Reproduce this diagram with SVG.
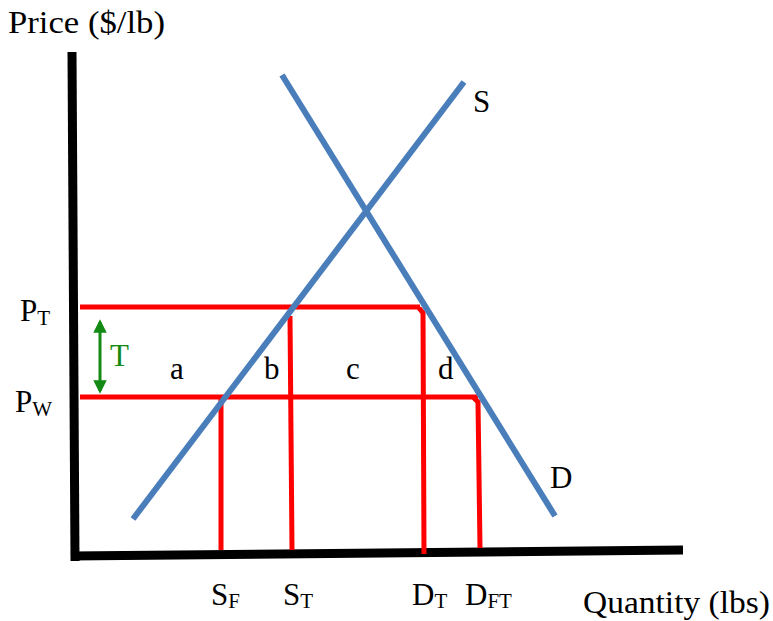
<svg xmlns="http://www.w3.org/2000/svg" width="773" height="621" viewBox="0 0 773 621">
<defs>
<style>
text{font-family:"Liberation Serif","DejaVu Serif",serif;fill:#000;}
.lbl{font-size:31px;}
.sub{font-size:21px;}
.axis{stroke:#000;stroke-width:9;fill:none;}
.curve{stroke:#4a7ebb;stroke-width:6;fill:none;}
.red{stroke:#ff0000;stroke-width:5;fill:none;}
.green{stroke:#138a13;stroke-width:3;fill:none;}
</style>
<marker id="ga" viewBox="0 0 10 10" refX="8" refY="5" markerWidth="4.5" markerHeight="4.5" orient="auto-start-reverse">
<path d="M0,0 L10,5 L0,10 z" fill="#138a13"/>
</marker>
</defs>
<rect width="773" height="621" fill="#fff"/>
<g id="axes">
<line class="axis" x1="72" y1="52" x2="75" y2="561"/>
<line class="axis" x1="71" y1="556" x2="683" y2="550"/>
<text class="lbl" x="8" y="33" textLength="157" lengthAdjust="spacingAndGlyphs">Price ($/lb)</text>
<text class="lbl" x="583" y="613" textLength="187" lengthAdjust="spacingAndGlyphs">Quantity (lbs)</text>
</g>
<g id="connectors">
<line class="red" x1="80" y1="307" x2="420" y2="307"/>
<line class="red" x1="80" y1="397" x2="478" y2="397"/>
<polyline class="red" points="221,397 221,550"/>
<polyline class="red" points="290,316 292,550"/>
<polyline class="red" points="419,308 423,313 424,554"/>
<polyline class="red" points="473,397 478,402 480,548"/>
<line class="green" x1="100" y1="322" x2="100" y2="391" marker-start="url(#ga)" marker-end="url(#ga)"/>
</g>
<g id="supply">
<line class="curve" x1="133" y1="519" x2="464" y2="82"/>
<text class="lbl" x="473" y="112">S</text>
</g>
<g id="demand">
<line class="curve" x1="282" y1="75" x2="555" y2="516"/>
<text class="lbl" x="550" y="488">D</text>
</g>
<g id="labels">
<text class="lbl" x="20" y="321">P<tspan class="sub" dy="4">T</tspan></text>
<text class="lbl" x="15" y="412">P<tspan class="sub" dy="4">W</tspan></text>
<text class="lbl" x="110" y="366" style="fill:#138a13">T</text>
<text class="lbl" x="170" y="379">a</text>
<text class="lbl" x="264" y="379">b</text>
<text class="lbl" x="346" y="379">c</text>
<text class="lbl" x="438" y="379">d</text>
<text class="lbl" x="211" y="605">S<tspan class="sub" dy="3">F</tspan></text>
<text class="lbl" x="283" y="605">S<tspan class="sub" dy="3">T</tspan></text>
<text class="lbl" x="412" y="605">D<tspan class="sub" dy="3">T</tspan></text>
<text class="lbl" x="465" y="605">D<tspan class="sub" dy="3">FT</tspan></text>
</g>
</svg>
